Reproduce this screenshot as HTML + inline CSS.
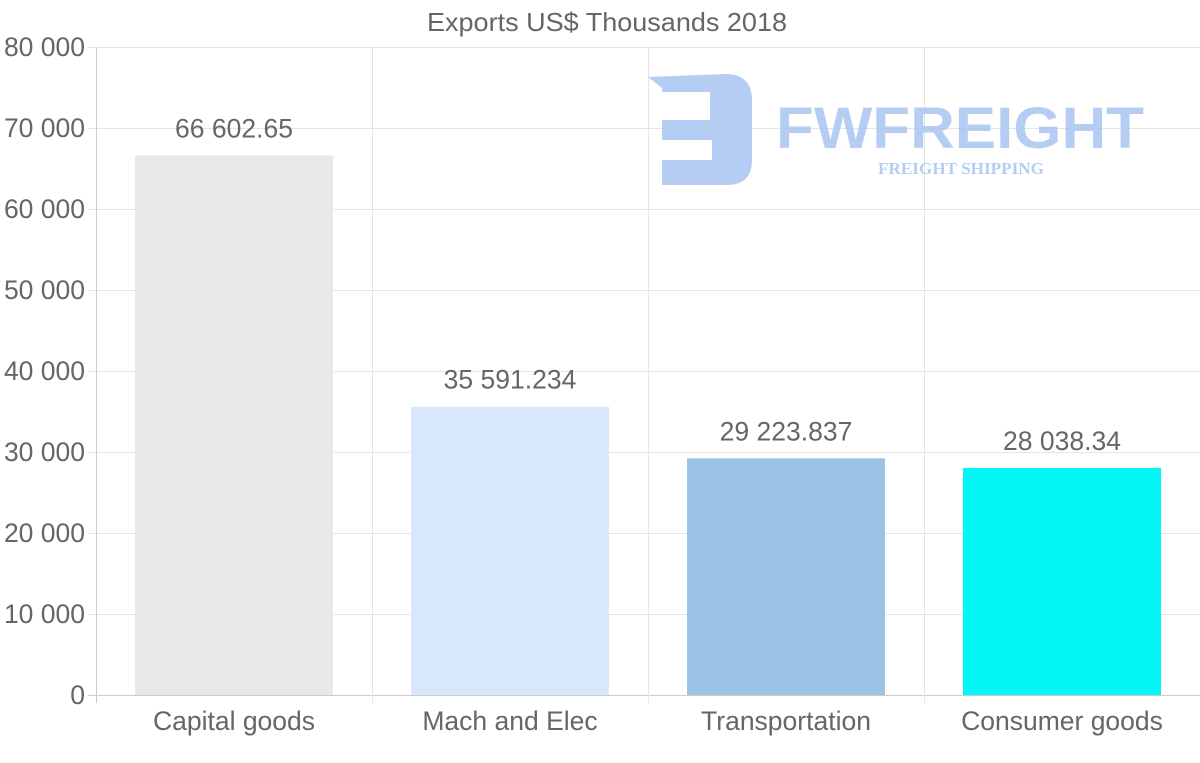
<!DOCTYPE html>
<html><head><meta charset="utf-8"><style>
body{margin:0;background:#fff;}
svg{display:block;font-family:"Liberation Sans",sans-serif;}
</style></head><body>
<svg id="chart" width="1200" height="763">
<text x="607" y="31" text-anchor="middle" font-size="26" fill="#666" textLength="360" lengthAdjust="spacingAndGlyphs">Exports US$ Thousands 2018</text>
<g id="grid"></g>
<g id="logo" opacity="0.9">
<path d="M648 77 L725 74 Q752 74 752 100 L752 160 Q752 185 727 185 L662 185 L662 160 L712 160 L712 140 L662 140 L662 120 L710 120 L710 92 L662 92 L662 88 Z" fill="#adc8f2"/>
<text x="960" y="148" text-anchor="middle" font-size="58" font-weight="bold" fill="#adc8f2" textLength="368" lengthAdjust="spacingAndGlyphs">FWFREIGHT</text>
<text x="961" y="174" text-anchor="middle" font-size="17" font-weight="bold" font-family="Liberation Serif,serif" fill="#adc8f2" textLength="166" lengthAdjust="spacingAndGlyphs">FREIGHT SHIPPING</text>
</g>
<g id="bars"></g>
<g id="axes"></g>
</svg>
<script>
const categories=["Capital goods","Mach and Elec","Transportation","Consumer goods"];
const values=[66602.65,35591.234,29223.837,28038.34];
const valueLabels=["66 602.65","35 591.234","29 223.837","28 038.34"];
const colors=["#e8e8e8","#d8e7f9","#9bc3e6","#03f7f7"];
const yTicks=[0,10000,20000,30000,40000,50000,60000,70000,80000];
const yTickLabels=["0","10 000","20 000","30 000","40 000","50 000","60 000","70 000","80 000"];
const X0=96,X1=1200,Y0=695,Y1=47,YMAX=80000;
const bw=(X1-X0)/categories.length;
const y=v=>Y0-(v/YMAX)*(Y0-Y1);
const NS="http://www.w3.org/2000/svg";
function mk(tag,attrs,parent,text){const e=document.createElementNS(NS,tag);for(const k in attrs)e.setAttribute(k,attrs[k]);if(text!==undefined)e.textContent=text;document.getElementById(parent).appendChild(e);return e;}
yTicks.forEach((t,i)=>{
  const l=mk('line',{x1:X0-8,x2:X1,y1:y(t)+0.5,y2:y(t)+0.5,stroke:t===0?'#ccc':'#e5e5e5'},'grid');
  
  
  const tx=mk('text',{x:85,y:y(t)+9,'text-anchor':'end','font-size':26.5,fill:'#666'},'axes',yTickLabels[i]);
  
  
});
for(let i=0;i<=categories.length;i++){
  const x=X0+i*bw+0.5;
  const l=mk('line',{x1:x,x2:x,y1:Y1,y2:Y0+8,stroke:i===0?'#ccc':'#e5e5e5'},'grid');
  
  
}
categories.forEach((c,i)=>{
  const cx=X0+bw*(i+0.5);const w=198;
  const r=mk('rect',{x:cx-w/2,y:y(values[i]),width:w,height:Y0-y(values[i]),fill:colors[i]},'bars');
  
  
  const v=mk('text',{x:cx,y:y(values[i])-18,'text-anchor':'middle','font-size':26.5,fill:'#666'},'bars',valueLabels[i]);
  
  
  const t=mk('text',{x:cx,y:730,'text-anchor':'middle','font-size':26.5,fill:'#666'},'axes',c);
  
  
});
</script>
</body></html>
